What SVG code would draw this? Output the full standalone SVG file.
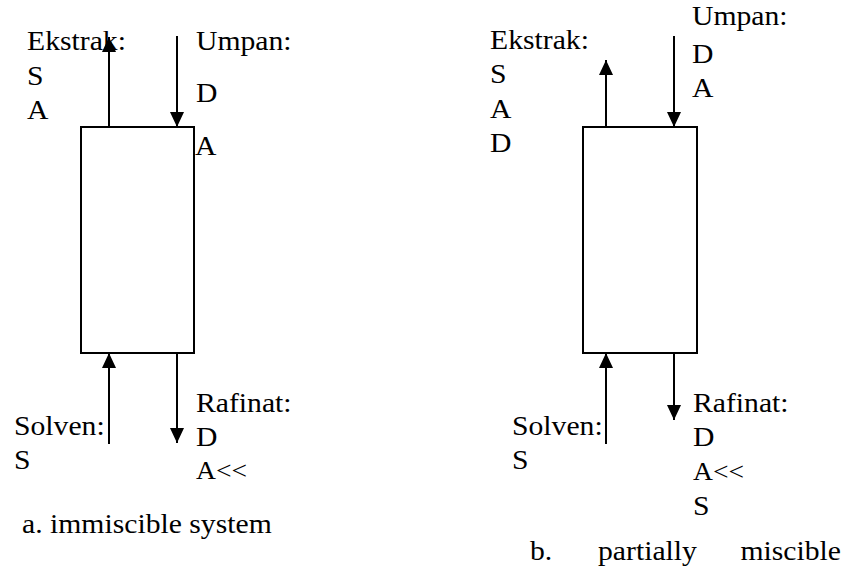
<svg xmlns="http://www.w3.org/2000/svg" width="843" height="572" viewBox="0 0 843 572">
<style>
text{font-family:'Liberation Serif','Times New Roman',serif;font-size:28px;fill:#000}
.sm{font-size:26px}
.box{fill:#fff;stroke:#000;stroke-width:2}
.flow{stroke:#000;stroke-width:2;fill:none;marker-end:url(#ah)}
</style>
<defs>
<marker id="ah" markerUnits="userSpaceOnUse" markerWidth="16" markerHeight="14" refX="15" refY="7" orient="auto">
<path d="M0,0 L15,7 L0,14 z" fill="#000"/>
</marker>
</defs>
<rect width="843" height="572" fill="#fff"/>
<g id="connectors">
<line class="flow" x1="109" y1="127" x2="109" y2="37"/>
<line class="flow" x1="177" y1="36" x2="177" y2="127"/>
<line class="flow" x1="109" y1="444" x2="109" y2="353"/>
<line class="flow" x1="177" y1="353" x2="177" y2="443"/>
<line class="flow" x1="606" y1="127" x2="606" y2="60"/>
<line class="flow" x1="674" y1="36" x2="674" y2="127"/>
<line class="flow" x1="606" y1="444" x2="606" y2="353"/>
<line class="flow" x1="674" y1="353" x2="674" y2="420"/>
</g>
<g id="column-a"><rect class="box" x="81" y="127" width="113" height="226"/></g>
<g id="column-b"><rect class="box" x="583" y="127" width="114" height="226"/></g>
<g id="labels-a" transform="scale(1.06 1)">
<text x="25.5" y="50">Ekstrak:</text>
<text x="25.5" y="85">S</text>
<text x="25.5" y="119">A</text>
<text x="184.9" y="50">Umpan:</text>
<text x="184.9" y="102">D</text>
<text x="184" y="155">A</text>
<text x="13.2" y="435">Solven:</text>
<text x="13.2" y="469">S</text>
<text x="184.9" y="412">Rafinat:</text>
<text x="184.9" y="446">D</text>
<text class="sm" x="184.9" y="479">A&lt;&lt;</text>
<text x="20.8" y="533">a. immiscible system</text>
</g>
<g id="labels-b" transform="scale(1.06 1)">
<text x="462.3" y="49">Ekstrak:</text>
<text x="462.3" y="83">S</text>
<text x="462.3" y="118">A</text>
<text x="462.3" y="152">D</text>
<text x="652.8" y="25">Umpan:</text>
<text x="652.8" y="63">D</text>
<text x="652.8" y="97">A</text>
<text x="483" y="435">Solven:</text>
<text x="483" y="469">S</text>
<text x="653.8" y="412">Rafinat:</text>
<text x="653.8" y="446">D</text>
<text class="sm" x="653.8" y="480">A&lt;&lt;</text>
<text x="653.8" y="515">S</text>
<text x="500" y="560">b.</text>
<text x="564.2" y="560">partially</text>
<text x="698.5" y="560">miscible</text>
</g>
</svg>
